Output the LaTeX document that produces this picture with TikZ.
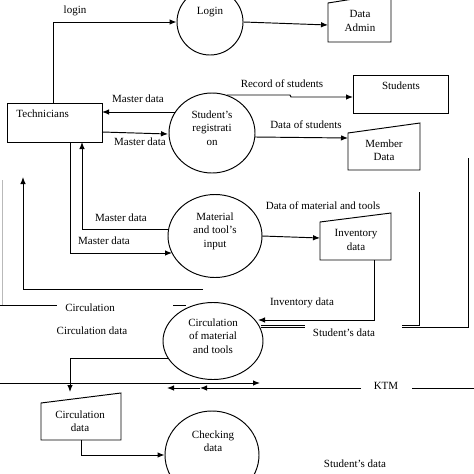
\documentclass[tikz,border=0pt]{standalone}
\usepackage{fontspec}
\setmainfont{Liberation Serif}
\usetikzlibrary{arrows.meta,shapes.geometric}
\begin{document}
\begin{tikzpicture}[x=1pt,y=-1pt,line width=0.95pt,
  tx/.style={font=\fontsize{11}{13.5}\selectfont,align=center,inner sep=0pt},
  arr/.style={-{Latex[length=7pt,width=5.5pt]}},
  proc/.style={draw,ellipse,inner sep=0pt}]
\useasboundingbox (0,0) rectangle (474,474);
\clip (0,0) rectangle (474,474);
% processes
\node[proc,minimum width=66pt,minimum height=66pt] (login) at (210,22) {};
\node[proc,minimum width=86pt,minimum height=80pt] (reg) at (212,133) {};
\node[proc,minimum width=94pt,minimum height=83pt] (mat) at (215,236) {};
\node[proc,minimum width=100pt,minimum height=77pt] (circ) at (213,341) {};
\node[proc,minimum width=94pt,minimum height=88pt] (chk) at (212,455) {};
\node[tx] (loginT) at (210,12) {Login};
\node[tx] (regT) at (212,128) {Student’s\\registrati\\on};
\node[tx] (matT) at (215,231) {Material\\and tool’s\\input};
\node[tx] (circT) at (213,336) {Circulation\\of material\\and tools};
\node[tx] (chkT) at (213,441) {Checking\\data};
% rectangles
\node[draw,minimum width=95pt,minimum height=39pt,inner sep=0pt] (tech) at (54.5,122.5) {};
\node[tx,anchor=west] (techT) at (16,114) {Technicians};
\node[draw,minimum width=95pt,minimum height=38pt,inner sep=0pt] (stud) at (400.5,94) {};
\node[tx] (studT) at (401,86) {Students};
% trapezoid stores
\draw (328,3) -- (391,-7) -- (391,42) -- (328,42) -- cycle;
\node[tx] (admin) at (360,21) {Data\\Admin};
\draw (348,133) -- (420,123) -- (420,170) -- (348,170) -- cycle;
\node[tx] (member) at (384,150) {Member\\Data};
\draw (320,222) -- (391,213) -- (391,260) -- (320,260) -- cycle;
\node[tx] (inv) at (356,240) {Inventory\\data};
\draw (41,403) -- (121,393) -- (121,440) -- (41,440) -- cycle;
\node[tx] (cdata) at (80,421) {Circulation\\data};
% connectors
\draw[arr] (53,103) |- (login.west);
\draw[arr] (login.east) -- (328,25);
\draw[arr] (175,112) -- (102,112);
\draw[arr] (102,132) -- (168,134);
\draw[arr] (227,95) -- (290,95) -- (291,97) -- (353,97);
\draw[arr] (255,137) -- (348,138);
\draw[arr] (168,229) -- (82,229) -- (82,142);
\draw[arr] (70,142) -- (70,253) -- (172,253);
\draw[arr] (262,236) -- (320,238);
\draw[arr] (374,260) -- (374,320) -- (258,320);
\draw (261,325) -- (305,325);
\draw (261,327.5) -- (305,327.5);
\draw (402,325) -- (419,325) -- (419,192);
\draw (402,327.5) -- (468,327.5) -- (468,158);
\draw[gray!55] (2,180) -- (2,305);
\draw (0,305) -- (57,305);
\draw (173,305) -- (186,305);
\draw[arr] (203,289) -- (23,289) -- (23,177);
\draw[arr] (168,358) -- (70,358) -- (70,392);
\draw[arr] (0,383) -- (260,383);
\node[tx] (ktm) at (386,386) {KTM};
\draw (474,388) -- (412,388);
\draw[arr] (361,388) -- (200,388);
\draw[arr] (200,388) -- (167,388);
\draw[arr] (81,440) -- (81,455) -- (chk.west);
% labels
\node[tx] (l1) at (75,11) {login};
\node[tx] (l2) at (138,99) {Master data};
\node[tx] (l3) at (140,142) {Master data};
\node[tx] (l4) at (121,218) {Master data};
\node[tx] (l5) at (104,241) {Master data};
\node[tx] (l6) at (282,84) {Record of students};
\node[tx] (l7) at (306,125) {Data of students};
\node[tx] (l8) at (323,206) {Data of material and tools};
\node[tx] (l9) at (302,303) {Inventory data};
\node[tx] (l10) at (344,333) {Student’s data};
\node[tx] (l11) at (355,464) {Student’s data};
\node[tx] (l12) at (90,308) {Circulation};
\node[tx] (l13) at (92,331) {Circulation data};
\end{tikzpicture}
\end{document}
